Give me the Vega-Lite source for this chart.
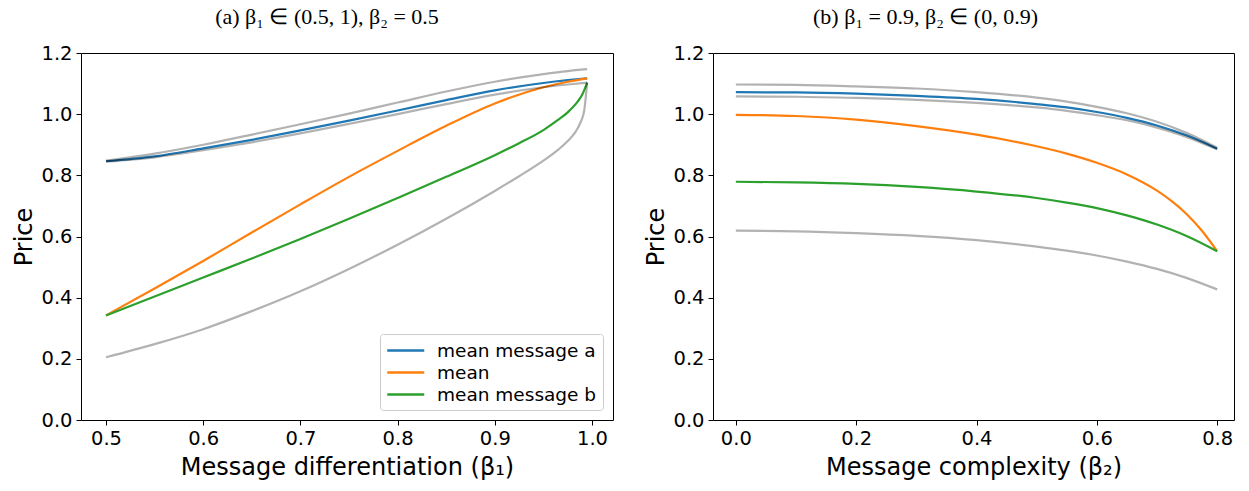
{
  "$schema": "https://vega.github.io/schema/vega-lite/v6.json",
  "padding": {"left": 12, "top": 5, "right": 6, "bottom": 5},
  "spacing": 30,
  "config": {
    "view": {"stroke": "#000000", "strokeWidth": 1},
    "axis": {
      "grid": false, "domain": false,
      "labelFont": "DejaVu Sans", "labelFontSize": 19.5, "labelColor": "#000000",
      "tickColor": "#000000", "tickSize": 5, "labelPadding": 4,
      "titleFont": "DejaVu Sans", "titleFontSize": 24, "titleFontWeight": "normal", "titleColor": "#000000"
    },
    "axisX": {"titlePadding": 8},
    "axisY": {"titlePadding": 4},
    "title": {"font": "Liberation Serif", "fontSize": 22, "fontWeight": "normal", "color": "#000000", "offset": 14},
    "legend": {
      "orient": "bottom-right", "offset": 10, "padding": 6,
      "strokeColor": "#cccccc", "cornerRadius": 3, "fillColor": "#ffffff",
      "symbolType": "M-1,0H3", "symbolStrokeWidth": 2.5, "symbolSize": 342,
      "labelFont": "DejaVu Sans", "labelFontSize": 18.5, "labelColor": "#000000",
      "labelOffset": 30, "rowPadding": 2, "title": null
    }
  },
  "datasets": {
    "a": [
      {"x": 0.5, "y": 0.846, "series": "mean message a", "kind": "main"},
      {"x": 0.55, "y": 0.862, "series": "mean message a", "kind": "main"},
      {"x": 0.6, "y": 0.888, "series": "mean message a", "kind": "main"},
      {"x": 0.65, "y": 0.916, "series": "mean message a", "kind": "main"},
      {"x": 0.7, "y": 0.947, "series": "mean message a", "kind": "main"},
      {"x": 0.75, "y": 0.979, "series": "mean message a", "kind": "main"},
      {"x": 0.8, "y": 1.012, "series": "mean message a", "kind": "main"},
      {"x": 0.85, "y": 1.046, "series": "mean message a", "kind": "main"},
      {"x": 0.9, "y": 1.078, "series": "mean message a", "kind": "main"},
      {"x": 0.95, "y": 1.102, "series": "mean message a", "kind": "main"},
      {"x": 0.975, "y": 1.111, "series": "mean message a", "kind": "main"},
      {"x": 0.995, "y": 1.117, "series": "mean message a", "kind": "main"},

      {"x": 0.5, "y": 0.342, "series": "mean", "kind": "main"},
      {"x": 0.55, "y": 0.43, "series": "mean", "kind": "main"},
      {"x": 0.6, "y": 0.52, "series": "mean", "kind": "main"},
      {"x": 0.65, "y": 0.613, "series": "mean", "kind": "main"},
      {"x": 0.7, "y": 0.705, "series": "mean", "kind": "main"},
      {"x": 0.75, "y": 0.795, "series": "mean", "kind": "main"},
      {"x": 0.8, "y": 0.88, "series": "mean", "kind": "main"},
      {"x": 0.85, "y": 0.962, "series": "mean", "kind": "main"},
      {"x": 0.9, "y": 1.035, "series": "mean", "kind": "main"},
      {"x": 0.95, "y": 1.088, "series": "mean", "kind": "main"},
      {"x": 0.975, "y": 1.106, "series": "mean", "kind": "main"},
      {"x": 0.995, "y": 1.117, "series": "mean", "kind": "main"},

      {"x": 0.5, "y": 0.342, "series": "mean message b", "kind": "main"},
      {"x": 0.55, "y": 0.404, "series": "mean message b", "kind": "main"},
      {"x": 0.6, "y": 0.466, "series": "mean message b", "kind": "main"},
      {"x": 0.65, "y": 0.528, "series": "mean message b", "kind": "main"},
      {"x": 0.7, "y": 0.592, "series": "mean message b", "kind": "main"},
      {"x": 0.75, "y": 0.658, "series": "mean message b", "kind": "main"},
      {"x": 0.8, "y": 0.726, "series": "mean message b", "kind": "main"},
      {"x": 0.85, "y": 0.795, "series": "mean message b", "kind": "main"},
      {"x": 0.9, "y": 0.866, "series": "mean message b", "kind": "main"},
      {"x": 0.925, "y": 0.905, "series": "mean message b", "kind": "main"},
      {"x": 0.95, "y": 0.948, "series": "mean message b", "kind": "main"},
      {"x": 0.965, "y": 0.981, "series": "mean message b", "kind": "main"},
      {"x": 0.975, "y": 1.006, "series": "mean message b", "kind": "main"},
      {"x": 0.985, "y": 1.04, "series": "mean message b", "kind": "main"},
      {"x": 0.99, "y": 1.064, "series": "mean message b", "kind": "main"},
      {"x": 0.995, "y": 1.103, "series": "mean message b", "kind": "main"},

      {"x": 0.5, "y": 0.848, "series": "bound 1", "kind": "bound"},
      {"x": 0.55, "y": 0.871, "series": "bound 1", "kind": "bound"},
      {"x": 0.6, "y": 0.9, "series": "bound 1", "kind": "bound"},
      {"x": 0.65, "y": 0.933, "series": "bound 1", "kind": "bound"},
      {"x": 0.7, "y": 0.967, "series": "bound 1", "kind": "bound"},
      {"x": 0.75, "y": 1.002, "series": "bound 1", "kind": "bound"},
      {"x": 0.8, "y": 1.038, "series": "bound 1", "kind": "bound"},
      {"x": 0.85, "y": 1.074, "series": "bound 1", "kind": "bound"},
      {"x": 0.9, "y": 1.106, "series": "bound 1", "kind": "bound"},
      {"x": 0.95, "y": 1.131, "series": "bound 1", "kind": "bound"},
      {"x": 0.975, "y": 1.141, "series": "bound 1", "kind": "bound"},
      {"x": 0.995, "y": 1.147, "series": "bound 1", "kind": "bound"},

      {"x": 0.5, "y": 0.845, "series": "bound 2", "kind": "bound"},
      {"x": 0.55, "y": 0.859, "series": "bound 2", "kind": "bound"},
      {"x": 0.6, "y": 0.882, "series": "bound 2", "kind": "bound"},
      {"x": 0.65, "y": 0.908, "series": "bound 2", "kind": "bound"},
      {"x": 0.7, "y": 0.937, "series": "bound 2", "kind": "bound"},
      {"x": 0.75, "y": 0.968, "series": "bound 2", "kind": "bound"},
      {"x": 0.8, "y": 1.0, "series": "bound 2", "kind": "bound"},
      {"x": 0.85, "y": 1.033, "series": "bound 2", "kind": "bound"},
      {"x": 0.9, "y": 1.064, "series": "bound 2", "kind": "bound"},
      {"x": 0.95, "y": 1.088, "series": "bound 2", "kind": "bound"},
      {"x": 0.975, "y": 1.097, "series": "bound 2", "kind": "bound"},
      {"x": 0.995, "y": 1.103, "series": "bound 2", "kind": "bound"},

      {"x": 0.5, "y": 0.205, "series": "bound 3", "kind": "bound"},
      {"x": 0.55, "y": 0.248, "series": "bound 3", "kind": "bound"},
      {"x": 0.6, "y": 0.297, "series": "bound 3", "kind": "bound"},
      {"x": 0.65, "y": 0.356, "series": "bound 3", "kind": "bound"},
      {"x": 0.7, "y": 0.421, "series": "bound 3", "kind": "bound"},
      {"x": 0.75, "y": 0.494, "series": "bound 3", "kind": "bound"},
      {"x": 0.8, "y": 0.573, "series": "bound 3", "kind": "bound"},
      {"x": 0.85, "y": 0.658, "series": "bound 3", "kind": "bound"},
      {"x": 0.9, "y": 0.749, "series": "bound 3", "kind": "bound"},
      {"x": 0.925, "y": 0.797, "series": "bound 3", "kind": "bound"},
      {"x": 0.95, "y": 0.848, "series": "bound 3", "kind": "bound"},
      {"x": 0.965, "y": 0.883, "series": "bound 3", "kind": "bound"},
      {"x": 0.975, "y": 0.912, "series": "bound 3", "kind": "bound"},
      {"x": 0.983, "y": 0.942, "series": "bound 3", "kind": "bound"},
      {"x": 0.988, "y": 0.972, "series": "bound 3", "kind": "bound"},
      {"x": 0.992, "y": 1.012, "series": "bound 3", "kind": "bound"},
      {"x": 0.995, "y": 1.103, "series": "bound 3", "kind": "bound"}
    ],
    "b": [
      {"x": 0.0, "y": 1.072, "series": "mean message a", "kind": "main"},
      {"x": 0.1, "y": 1.071, "series": "mean message a", "kind": "main"},
      {"x": 0.2, "y": 1.067, "series": "mean message a", "kind": "main"},
      {"x": 0.3, "y": 1.06, "series": "mean message a", "kind": "main"},
      {"x": 0.4, "y": 1.05, "series": "mean message a", "kind": "main"},
      {"x": 0.5, "y": 1.033, "series": "mean message a", "kind": "main"},
      {"x": 0.55, "y": 1.022, "series": "mean message a", "kind": "main"},
      {"x": 0.6, "y": 1.007, "series": "mean message a", "kind": "main"},
      {"x": 0.65, "y": 0.988, "series": "mean message a", "kind": "main"},
      {"x": 0.7, "y": 0.963, "series": "mean message a", "kind": "main"},
      {"x": 0.75, "y": 0.93, "series": "mean message a", "kind": "main"},
      {"x": 0.8, "y": 0.887, "series": "mean message a", "kind": "main"},

      {"x": 0.0, "y": 0.998, "series": "mean", "kind": "main"},
      {"x": 0.1, "y": 0.994, "series": "mean", "kind": "main"},
      {"x": 0.2, "y": 0.982, "series": "mean", "kind": "main"},
      {"x": 0.3, "y": 0.961, "series": "mean", "kind": "main"},
      {"x": 0.4, "y": 0.933, "series": "mean", "kind": "main"},
      {"x": 0.5, "y": 0.895, "series": "mean", "kind": "main"},
      {"x": 0.55, "y": 0.871, "series": "mean", "kind": "main"},
      {"x": 0.6, "y": 0.841, "series": "mean", "kind": "main"},
      {"x": 0.65, "y": 0.803, "series": "mean", "kind": "main"},
      {"x": 0.7, "y": 0.75, "series": "mean", "kind": "main"},
      {"x": 0.725, "y": 0.715, "series": "mean", "kind": "main"},
      {"x": 0.75, "y": 0.672, "series": "mean", "kind": "main"},
      {"x": 0.775, "y": 0.618, "series": "mean", "kind": "main"},
      {"x": 0.8, "y": 0.552, "series": "mean", "kind": "main"},

      {"x": 0.0, "y": 0.779, "series": "mean message b", "kind": "main"},
      {"x": 0.1, "y": 0.777, "series": "mean message b", "kind": "main"},
      {"x": 0.2, "y": 0.772, "series": "mean message b", "kind": "main"},
      {"x": 0.3, "y": 0.762, "series": "mean message b", "kind": "main"},
      {"x": 0.4, "y": 0.747, "series": "mean message b", "kind": "main"},
      {"x": 0.5, "y": 0.726, "series": "mean message b", "kind": "main"},
      {"x": 0.55, "y": 0.711, "series": "mean message b", "kind": "main"},
      {"x": 0.6, "y": 0.693, "series": "mean message b", "kind": "main"},
      {"x": 0.65, "y": 0.669, "series": "mean message b", "kind": "main"},
      {"x": 0.7, "y": 0.639, "series": "mean message b", "kind": "main"},
      {"x": 0.75, "y": 0.601, "series": "mean message b", "kind": "main"},
      {"x": 0.8, "y": 0.552, "series": "mean message b", "kind": "main"},

      {"x": 0.0, "y": 1.097, "series": "bound 1", "kind": "bound"},
      {"x": 0.1, "y": 1.096, "series": "bound 1", "kind": "bound"},
      {"x": 0.2, "y": 1.091, "series": "bound 1", "kind": "bound"},
      {"x": 0.3, "y": 1.084, "series": "bound 1", "kind": "bound"},
      {"x": 0.4, "y": 1.072, "series": "bound 1", "kind": "bound"},
      {"x": 0.5, "y": 1.054, "series": "bound 1", "kind": "bound"},
      {"x": 0.55, "y": 1.041, "series": "bound 1", "kind": "bound"},
      {"x": 0.6, "y": 1.024, "series": "bound 1", "kind": "bound"},
      {"x": 0.65, "y": 1.003, "series": "bound 1", "kind": "bound"},
      {"x": 0.7, "y": 0.975, "series": "bound 1", "kind": "bound"},
      {"x": 0.75, "y": 0.938, "series": "bound 1", "kind": "bound"},
      {"x": 0.8, "y": 0.89, "series": "bound 1", "kind": "bound"},

      {"x": 0.0, "y": 1.058, "series": "bound 2", "kind": "bound"},
      {"x": 0.1, "y": 1.057, "series": "bound 2", "kind": "bound"},
      {"x": 0.2, "y": 1.053, "series": "bound 2", "kind": "bound"},
      {"x": 0.3, "y": 1.047, "series": "bound 2", "kind": "bound"},
      {"x": 0.4, "y": 1.037, "series": "bound 2", "kind": "bound"},
      {"x": 0.5, "y": 1.022, "series": "bound 2", "kind": "bound"},
      {"x": 0.55, "y": 1.011, "series": "bound 2", "kind": "bound"},
      {"x": 0.6, "y": 0.997, "series": "bound 2", "kind": "bound"},
      {"x": 0.65, "y": 0.98, "series": "bound 2", "kind": "bound"},
      {"x": 0.7, "y": 0.956, "series": "bound 2", "kind": "bound"},
      {"x": 0.75, "y": 0.925, "series": "bound 2", "kind": "bound"},
      {"x": 0.8, "y": 0.885, "series": "bound 2", "kind": "bound"},

      {"x": 0.0, "y": 0.619, "series": "bound 3", "kind": "bound"},
      {"x": 0.1, "y": 0.617, "series": "bound 3", "kind": "bound"},
      {"x": 0.2, "y": 0.611, "series": "bound 3", "kind": "bound"},
      {"x": 0.3, "y": 0.602, "series": "bound 3", "kind": "bound"},
      {"x": 0.4, "y": 0.588, "series": "bound 3", "kind": "bound"},
      {"x": 0.5, "y": 0.567, "series": "bound 3", "kind": "bound"},
      {"x": 0.55, "y": 0.554, "series": "bound 3", "kind": "bound"},
      {"x": 0.6, "y": 0.538, "series": "bound 3", "kind": "bound"},
      {"x": 0.65, "y": 0.518, "series": "bound 3", "kind": "bound"},
      {"x": 0.7, "y": 0.494, "series": "bound 3", "kind": "bound"},
      {"x": 0.75, "y": 0.464, "series": "bound 3", "kind": "bound"},
      {"x": 0.8, "y": 0.427, "series": "bound 3", "kind": "bound"}
    ]
  },
  "resolve": {"scale": {"color": "independent"}, "legend": {"color": "independent"}},
  "hconcat": [
    {
      "title": {"text": "(a) β₁ ∈ (0.5, 1), β₂ = 0.5", "dx": -20},
      "width": 532, "height": 367,
      "data": {"name": "a"},
      "layer": [
        {
          "transform": [{"filter": "datum.kind === 'main'"}],
          "mark": {"type": "line", "strokeWidth": 2.2, "interpolate": "monotone"},
          "encoding": {
            "x": {"field": "x", "type": "quantitative", "scale": {"domain": [0.4743, 1.0216], "nice": false, "zero": false},
                  "axis": {"values": [0.5, 0.6, 0.7, 0.8, 0.9, 1.0], "format": ".1f", "title": "Message differentiation (β₁)"}},
            "y": {"field": "y", "type": "quantitative", "scale": {"domain": [0, 1.2], "nice": false},
                  "axis": {"values": [0, 0.2, 0.4, 0.6, 0.8, 1.0, 1.2], "format": ".1f", "title": "Price"}},
            "color": {"field": "series", "type": "nominal", "sort": ["mean message a", "mean", "mean message b"],
                      "scale": {"domain": ["mean message a", "mean", "mean message b"], "range": ["#1f77b4", "#ff7f0e", "#2ca02c"]}}
          }
        },
        {
          "transform": [{"filter": "datum.kind === 'bound'"}],
          "mark": {"type": "line", "strokeWidth": 2.2, "color": "#000000", "opacity": 0.3, "interpolate": "monotone"},
          "encoding": {
            "x": {"field": "x", "type": "quantitative"},
            "y": {"field": "y", "type": "quantitative"},
            "detail": {"field": "series", "type": "nominal"}
          }
        }
      ]
    },
    {
      "title": {"text": "(b) β₁ = 0.9, β₂ ∈ (0, 0.9)", "dx": -48},
      "width": 521, "height": 367,
      "data": {"name": "b"},
      "layer": [
        {
          "transform": [{"filter": "datum.kind === 'main'"}],
          "mark": {"type": "line", "strokeWidth": 2.2, "interpolate": "monotone"},
          "encoding": {
            "x": {"field": "x", "type": "quantitative", "scale": {"domain": [-0.038, 0.828], "nice": false, "zero": false},
                  "axis": {"values": [0, 0.2, 0.4, 0.6, 0.8], "format": ".1f", "title": "Message complexity (β₂)"}},
            "y": {"field": "y", "type": "quantitative", "scale": {"domain": [0, 1.2], "nice": false},
                  "axis": {"values": [0, 0.2, 0.4, 0.6, 0.8, 1.0, 1.2], "format": ".1f", "title": "Price"}},
            "color": {"field": "series", "type": "nominal", "legend": null,
                      "scale": {"domain": ["mean message a", "mean", "mean message b"], "range": ["#1f77b4", "#ff7f0e", "#2ca02c"]}}
          }
        },
        {
          "transform": [{"filter": "datum.kind === 'bound'"}],
          "mark": {"type": "line", "strokeWidth": 2.2, "color": "#000000", "opacity": 0.3, "interpolate": "monotone"},
          "encoding": {
            "x": {"field": "x", "type": "quantitative"},
            "y": {"field": "y", "type": "quantitative"},
            "detail": {"field": "series", "type": "nominal"}
          }
        }
      ]
    }
  ]
}
